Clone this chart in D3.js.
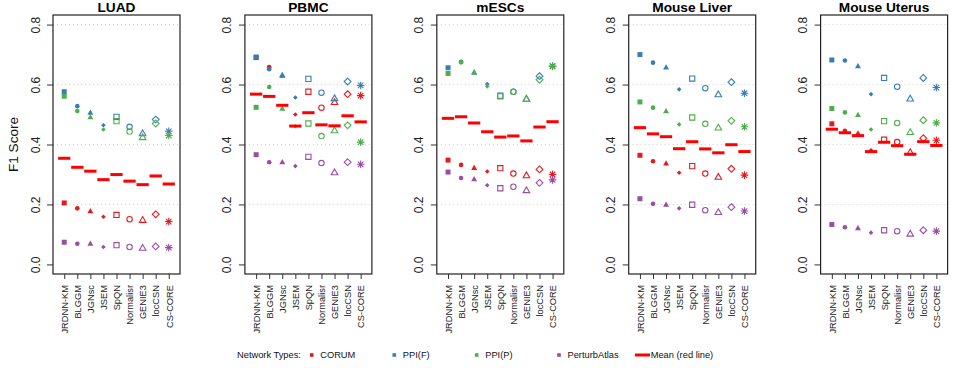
<!DOCTYPE html>
<html><head><meta charset="utf-8">
<script src="https://cdn.jsdelivr.net/npm/d3@7"></script>
<style>body{margin:0;background:#fff}svg{display:block;font-family:"Liberation Sans",Arial,sans-serif}</style>
</head><body><svg id="chart" width="959" height="368"></svg>
<script>
const methods = ["JRDNN-KM","BLGGM","JGNsc","JSEM","SpQN","Normalisr","GENIE3","locCSN","CS-CORE"];
const datasets = ["LUAD","PBMC","mESCs","Mouse Liver","Mouse Uterus"];
const networkTypes = ["CORUM","PPI(F)","PPI(P)","PerturbAtlas"];
const yTicks = [0.0,0.2,0.4,0.6,0.8];

// values per dataset (rows: LUAD, PBMC, mESCs, Mouse Liver, Mouse Uterus), columns = methods
const corum = [
  [0.205,0.187,0.178,0.159,0.165,0.151,0.148,0.167,0.143],
  [0.690,0.658,0.630,0.500,0.576,0.523,0.541,0.568,0.563],
  [0.348,0.332,0.322,0.310,0.321,0.303,0.297,0.317,0.300],
  [0.364,0.344,0.337,0.306,0.328,0.303,0.292,0.319,0.298],
  [0.469,0.446,0.437,0.381,0.416,0.408,0.374,0.421,0.414]
];
const ppiF = [
  [0.576,0.528,0.506,0.464,0.492,0.459,0.437,0.483,0.444],
  [0.692,0.651,0.632,0.557,0.619,0.573,0.554,0.610,0.597],
  [0.656,0.676,0.640,0.602,0.563,0.576,0.552,0.628,0.662],
  [0.700,0.673,0.657,0.584,0.620,0.588,0.567,0.608,0.571],
  [0.682,0.680,0.661,0.568,0.622,0.593,0.553,0.622,0.590]
];
const ppiP = [
  [0.561,0.512,0.491,0.450,0.478,0.443,0.424,0.470,0.430],
  [0.524,0.592,0.520,0.461,0.470,0.428,0.447,0.464,0.408],
  [0.637,0.674,0.641,0.594,0.561,0.576,0.552,0.616,0.660],
  [0.542,0.523,0.511,0.467,0.490,0.469,0.456,0.479,0.459],
  [0.520,0.507,0.499,0.450,0.478,0.472,0.441,0.481,0.472]
];
const perturbAtlas = [
  [0.074,0.069,0.069,0.058,0.064,0.058,0.055,0.060,0.056],
  [0.366,0.341,0.341,0.328,0.359,0.338,0.307,0.341,0.334],
  [0.308,0.288,0.284,0.264,0.254,0.259,0.247,0.272,0.282],
  [0.219,0.202,0.199,0.187,0.199,0.181,0.174,0.191,0.178],
  [0.133,0.124,0.121,0.106,0.114,0.111,0.102,0.114,0.111]
];
const seriesValues = [corum, ppiF, ppiP, perturbAtlas];
const seriesColors = ["#E41A1C","#377EB8","#4DAF4A","#984EA3"];

// ---- custom R-like symbols (size = half width) ----
const sq = {draw(c,r){c.moveTo(-r,-r);c.lineTo(r,-r);c.lineTo(r,r);c.lineTo(-r,r);c.closePath();}};
const ci = {draw(c,r){c.moveTo(r,0);c.arc(0,0,r,0,2*Math.PI);}};
const tr = {draw(c,r){c.moveTo(0,-r*1.05);c.lineTo(r,r*0.7);c.lineTo(-r,r*0.7);c.closePath();}};
const di = {draw(c,r){c.moveTo(0,-r);c.lineTo(r,0);c.lineTo(0,r);c.lineTo(-r,0);c.closePath();}};
const ast = {draw(c,r){c.moveTo(-r,0);c.lineTo(r,0);c.moveTo(0,-r);c.lineTo(0,r);
  const k=r*0.72;c.moveTo(-k,-k);c.lineTo(k,k);c.moveTo(-k,k);c.lineTo(k,-k);}};
const shapes = [
  {t:sq,r:2.5,fill:true},{t:ci,r:2.3,fill:true},{t:tr,r:3.0,fill:true},{t:di,r:2.3,fill:true},
  {t:sq,r:2.6,fill:false},{t:ci,r:2.7,fill:false},{t:tr,r:3.3,fill:false},{t:di,r:3.4,fill:false},
  {t:ast,r:3.8,fill:false}
];

const svg = d3.select("#chart");
const plotTop = 15, plotBottom = 274, pw = 127;
const y = d3.scaleLinear().domain([-0.032,0.832]).range([plotBottom, plotTop]);

datasets.forEach((ds, dIdx) => {
  const left = 53 + dIdx*191.9;
  const x = d3.scaleLinear().domain([0.14, 9.86]).range([left, left+pw]);
  const g = svg.append("g");

  // grid
  g.selectAll("line.grid").data(yTicks.filter(v=>v>0)).enter().append("line")
    .attr("x1", left).attr("x2", left+pw).attr("y1", d=>y(d)).attr("y2", d=>y(d))
    .attr("stroke","#cfcfcf").attr("stroke-width",1).attr("stroke-dasharray","1,3");

  // y axis
  const ya = g.append("g").attr("transform",`translate(${left},0)`)
    .call(d3.axisLeft(y).tickValues(yTicks).tickFormat(d3.format(".1f")).tickSize(6));
  ya.select(".domain").remove();
  ya.selectAll(".tick line").attr("stroke","#333");
  ya.selectAll(".tick text").attr("x",0).attr("dy",0).attr("text-anchor","middle")
    .attr("transform","translate(-13.5,0) rotate(-90)")
    .attr("font-size","12px").attr("fill","#222").attr("font-family","Liberation Sans, Arial, sans-serif");

  // x axis
  const xa = g.append("g").attr("transform",`translate(0,${plotBottom})`)
    .call(d3.axisBottom(x).tickValues(d3.range(1,10)).tickFormat(d=>methods[d-1]).tickSize(5));
  xa.select(".domain").remove();
  xa.selectAll(".tick line").attr("stroke","#333");
  xa.selectAll(".tick text").attr("x",0).attr("y",0).attr("dy","0.35em").attr("text-anchor","end")
    .attr("transform","translate(0,11) rotate(-90)")
    .attr("font-size","9.3px").attr("fill","#222").attr("font-family","Liberation Sans, Arial, sans-serif");

  // points
  seriesValues.forEach((sv, si) => {
    const col = seriesColors[si];
    g.selectAll(null).data(sv[dIdx]).enter().append("path")
      .attr("transform",(d,i)=>`translate(${x(i+1)},${y(d)})`)
      .attr("d",(d,i)=>d3.symbol().type(shapes[i].t).size(shapes[i].r)())
      .attr("fill",(d,i)=>shapes[i].fill ? col : "none")
      .attr("stroke",(d,i)=>shapes[i].fill ? "none" : col)
      .attr("stroke-width",1.1);
  });

  // mean lines
  const means = methods.map((m,i)=>d3.mean(seriesValues, sv=>sv[dIdx][i]));
  g.selectAll(null).data(means).enter().append("line")
    .attr("x1",(d,i)=>x(i+1-0.47)).attr("x2",(d,i)=>x(i+1+0.47))
    .attr("y1",d=>y(d)).attr("y2",d=>y(d))
    .attr("stroke","red").attr("stroke-width",3);

  // box
  g.append("rect").attr("x",left).attr("y",plotTop).attr("width",pw).attr("height",plotBottom-plotTop)
    .attr("fill","none").attr("stroke","#222").attr("stroke-width",1.2);

  // title
  g.append("text").attr("x",left+pw/2).attr("y",12.3).attr("text-anchor","middle")
    .attr("font-weight","bold").attr("font-size","13.7px").attr("fill","#000").text(ds);
});

// y label
svg.append("text").attr("transform","translate(18.3,144.5) rotate(-90)").attr("text-anchor","middle")
  .attr("font-size","13.6px").attr("fill","#111").text("F1 Score");

// legend
const lg = svg.append("g").attr("font-size","9.3px").attr("fill","#111");
lg.append("text").attr("x",237).attr("y",358.3).text("Network Types:");
const legX = [311.7, 394.3, 476.7, 559];
networkTypes.forEach((n,i)=>{
  lg.append("rect").attr("x",legX[i]-1.8).attr("y",353.2).attr("width",3.6).attr("height",3.6).attr("fill",seriesColors[i]);
  lg.append("text").attr("x",legX[i]+8.5).attr("y",358.3).text(n);
});
lg.append("line").attr("x1",635).attr("x2",650).attr("y1",355).attr("y2",355).attr("stroke","red").attr("stroke-width",3);
lg.append("text").attr("x",650.7).attr("y",358.3).text("Mean (red line)");
</script></body></html>
